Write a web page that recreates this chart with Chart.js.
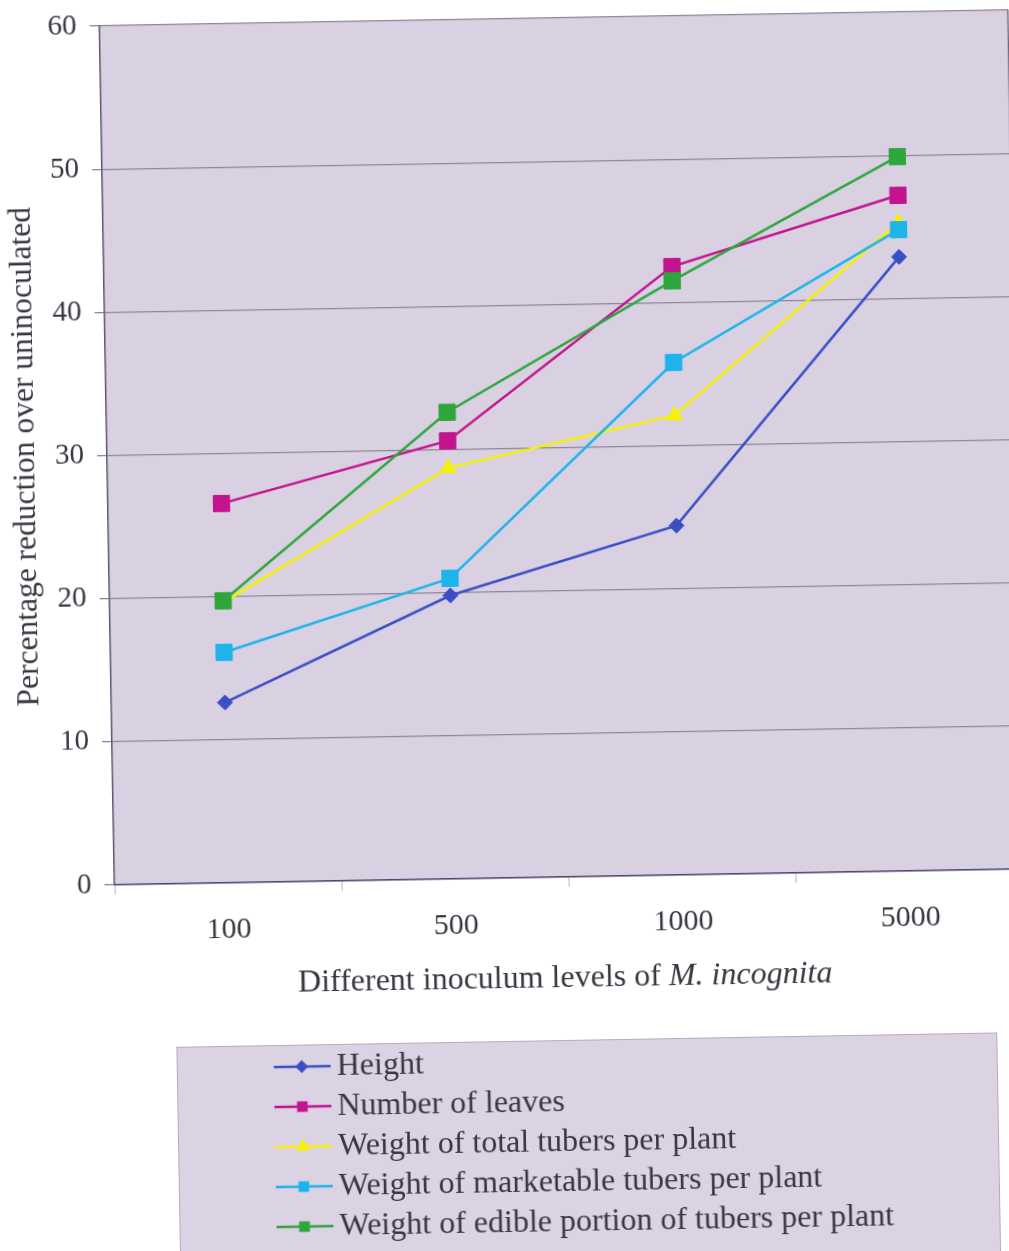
<!DOCTYPE html>
<html>
<head>
<meta charset="utf-8">
<script src="https://cdn.jsdelivr.net/npm/chart.js@4.4.0/dist/chart.umd.min.js"></script>
<style>
  html, body { margin: 0; padding: 0; background: #ffffff; overflow: hidden; }
  #page { width: 1009px; height: 1251px; position: relative; overflow: hidden; }
  #sheet { position: absolute; left: 0; top: 0; width: 1040px; height: 1270px;
           transform: rotate(-1deg); transform-origin: 560px 450px; }
</style>
</head>
<body>
<div id="page"><div id="sheet"><canvas id="chart" width="1040" height="1270"></canvas></div></div>
<script>
// Inoculum levels (nematodes per plant) and percentage reduction over uninoculated plants
const inoculumLevels = ['100', '500', '1000', '5000'];
const seriesNames = [
  'Height',
  'Number of leaves',
  'Weight of total tubers per plant',
  'Weight of marketable tubers per plant',
  'Weight of edible portion of tubers per plant'
];
const heightReduction     = [12.6, 19.8, 24.4, 42.9];
const leavesReduction     = [26.5, 30.6, 42.5, 47.2];
const totalTuberReduction = [19.6, 28.7, 32.1, 45.3];
const marketableReduction = [16.1, 21.0, 35.8, 44.8];
const edibleReduction     = [19.7, 32.6, 41.5, 49.9];
const yTickValues = [0, 10, 20, 30, 40, 50, 60];

const serif = '"Liberation Serif", "DejaVu Serif", serif';
const textColor = '#3a3540';
const plotFill = '#d9d1e2';

function series(label, data, color, style, radius, legendRadius, order) {
  return {
    label, data, order, legendRadius,
    borderColor: color,
    backgroundColor: color,
    pointBackgroundColor: color,
    pointBorderColor: color,
    borderWidth: 2.5,
    pointStyle: style,
    pointRadius: radius,
    pointHoverRadius: radius,
    pointBorderWidth: 1,
    tension: 0,
    fill: false
  };
}

const datasets = [
  series(seriesNames[0], heightReduction,     '#3b4fc4', 'rectRot',  7.5, 6.5, 5),
  series(seriesNames[1], leavesReduction,     '#c3138d', 'rect',    11.5, 7.5, 4),
  series(seriesNames[2], totalTuberReduction, '#f6f200', 'triangle',  9,  8,   3),
  series(seriesNames[3], marketableReduction, '#1db4ea', 'rect',    11.5, 7.5, 2),
  series(seriesNames[4], edibleReduction,     '#2ea63c', 'rect',    11.5, 7.5, 1)
];

// Lavender fill behind the plotting area, plus its right-hand frame line
const plotBackground = {
  id: 'plotBackground',
  beforeDraw(chart) {
    const { ctx, chartArea: a } = chart;
    ctx.save();
    ctx.fillStyle = plotFill;
    ctx.fillRect(a.left, a.top, a.right - a.left, a.bottom - a.top);
    ctx.restore();
  },
  afterDatasetsDraw(chart) {
    const { ctx, chartArea: a } = chart;
    ctx.save();
    ctx.strokeStyle = '#6d6680';
    ctx.lineWidth = 1.5;
    ctx.beginPath();
    ctx.moveTo(a.right - 0.5, a.top);
    ctx.lineTo(a.right - 0.5, a.bottom);
    ctx.stroke();
    ctx.restore();
  }
};

// X-axis title with the italic species name
const xAxisTitle = {
  id: 'xAxisTitle',
  afterDraw(chart) {
    const { ctx } = chart;
    const plain = 'Different inoculum levels of ';
    const ital = 'M. incognita';
    ctx.save();
    ctx.fillStyle = textColor;
    ctx.textBaseline = 'middle';
    ctx.font = '32px ' + serif;
    const w1 = ctx.measureText(plain).width;
    ctx.font = 'italic 32px ' + serif;
    const w2 = ctx.measureText(ital).width;
    const x0 = 556 - (w1 + w2) / 2;
    const y = 979;
    ctx.font = '32px ' + serif;
    ctx.fillText(plain, x0, y);
    ctx.font = 'italic 32px ' + serif;
    ctx.fillText(ital, x0 + w1, y);
    ctx.restore();
  }
};

function marker(ctx, style, x, y, r) {
  ctx.beginPath();
  if (style === 'rect') {
    const s = Math.SQRT1_2 * r;
    ctx.rect(x - s, y - s, 2 * s, 2 * s);
  } else if (style === 'rectRot') {
    ctx.moveTo(x - r, y); ctx.lineTo(x, y - r); ctx.lineTo(x + r, y); ctx.lineTo(x, y + r);
    ctx.closePath();
  } else if (style === 'triangle') {
    ctx.moveTo(x, y - r);
    ctx.lineTo(x + r * Math.sin(2 * Math.PI / 3), y - r * Math.cos(2 * Math.PI / 3));
    ctx.lineTo(x + r * Math.sin(4 * Math.PI / 3), y - r * Math.cos(4 * Math.PI / 3));
    ctx.closePath();
  }
  ctx.fill();
}

// Boxed legend underneath the chart
const boxedLegend = {
  id: 'boxedLegend',
  afterDraw(chart) {
    const ctx = chart.ctx;
    ctx.save();
    ctx.fillStyle = '#dbd2e3';
    ctx.fillRect(166, 1040, 821, 240);
    ctx.strokeStyle = '#b4abbf';
    ctx.lineWidth = 1;
    ctx.strokeRect(166.5, 1040.5, 820, 240);
    chart.data.datasets.forEach((ds, i) => {
      const y = 1062 + i * 40;
      ctx.strokeStyle = ds.borderColor;
      ctx.lineWidth = 2.5;
      ctx.beginPath();
      ctx.moveTo(263, y);
      ctx.lineTo(320, y);
      ctx.stroke();
      ctx.fillStyle = ds.borderColor;
      marker(ctx, ds.pointStyle, 291, y, ds.legendRadius);
      ctx.fillStyle = textColor;
      ctx.font = '32px ' + serif;
      ctx.textBaseline = 'middle';
      ctx.fillText(ds.label, 326, y + 1);
    });
    ctx.restore();
  }
};

new Chart(document.getElementById('chart'), {
  type: 'line',
  data: { labels: inoculumLevels, datasets },
  plugins: [plotBackground, xAxisTitle, boxedLegend],
  options: {
    responsive: false,
    animation: false,
    layout: { padding: { left: 0, right: 24, top: 18, bottom: 333 } },
    plugins: { legend: { display: false }, tooltip: { enabled: false } },
    scales: {
      x: {
        type: 'category',
        offset: true,
        afterFit(scale) { scale.height = 60; },
        grid: { display: true, drawOnChartArea: false, drawTicks: true, tickLength: 10, color: '#b9b3c2', offset: true },
        border: { display: true, color: '#4d4672', width: 1.5 },
        ticks: { color: textColor, font: { family: serif, size: 30 }, padding: 19 }
      },
      y: {
        min: 0,
        max: 60,
        afterBuildTicks(scale) { scale.ticks = yTickValues.map(v => ({ value: v })); },
        afterFit(scale) {
          scale.width = 107;
          scale.paddingTop = 0;
          scale.paddingBottom = 0;
        },
        grid: { color: '#8d8699', lineWidth: 1.3, tickLength: 10, drawTicks: true },
        border: { display: true, color: '#5e5672', width: 1.5 },
        ticks: { color: textColor, font: { family: serif, size: 29 }, padding: 13 },
        title: {
          display: true,
          text: 'Percentage reduction over uninoculated',
          color: textColor,
          font: { family: serif, size: 31.5 },
          padding: { top: 7, bottom: 0 }
        }
      }
    }
  }
});
</script>
</body>
</html>
